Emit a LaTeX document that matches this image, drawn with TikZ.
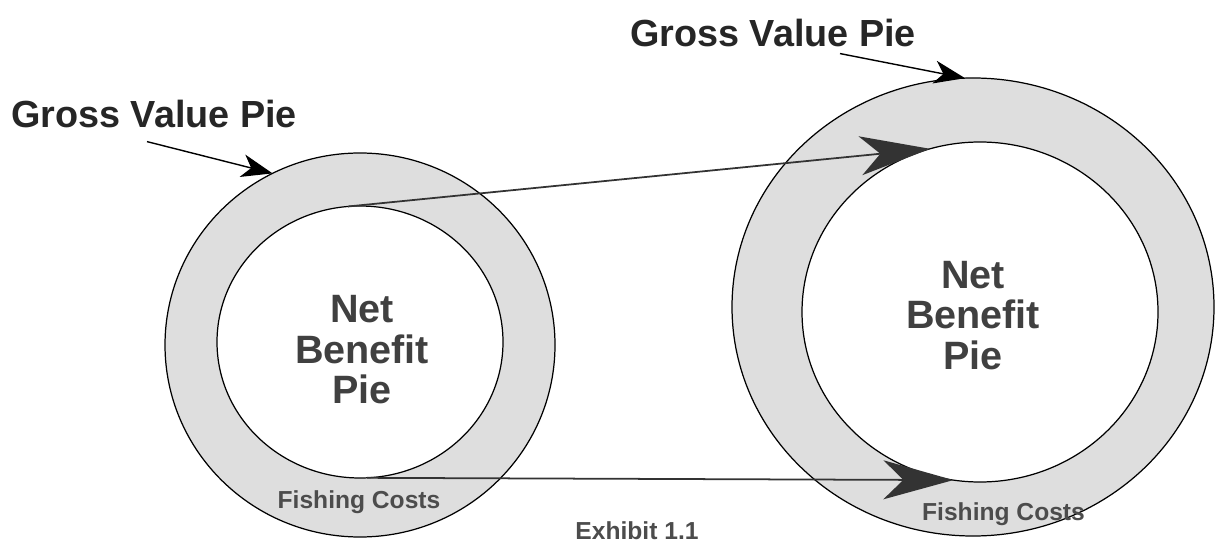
\documentclass[tikz,border=0pt]{standalone}
\usepackage{fontspec}
\setmainfont{Liberation Sans}
\usetikzlibrary{shapes.geometric,arrows.meta}

\begin{document}
\begin{tikzpicture}
        [>=Stealth,
         ring/.style={ellipse,draw,line width=0.7pt,inner sep=0pt,outer sep=0pt},
         headtext/.style={font=\fontsize{21.5}{25}\selectfont\bfseries,text=black!85},
         pietext/.style={align=center,font=\fontsize{22.5}{23}\selectfont\bfseries,text=black!75},
         costtext/.style={font=\fontsize{14}{17}\selectfont\bfseries,text=black!70},
         bigtip/.style={-{Stealth[length=1.4cm,width=0.78cm,inset=0.4cm]},line width=1pt,black!80},
         smalltip/.style={-{Stealth[length=0.62cm,width=0.46cm,inset=0.18cm]},line width=0.8pt}]

        \useasboundingbox (0,0) rectangle (24.34,10.88);

        % small pie on the left
        \begin{scope}[shift={(7.2,4)}]
            \node[ring,fill=black!13,minimum width=7.8cm,minimum height=7.68cm] (outerL) at (0,-0.02) {};
            \node[ring,fill=white,minimum width=5.72cm,minimum height=5.44cm] (innerL) at (0,0.04) {};
            \node[pietext] (netL) at (0.04,-0.12) {Net\\Benefit\\Pie};
            \node[costtext,anchor=base] (costL) at (-0.02,-3.28) {Fishing Costs};
        \end{scope}

        % bigger pie on the right
        \begin{scope}[shift={(19.5,4.7)}]
            \node[ring,fill=black!13,minimum width=9.64cm,minimum height=9.16cm] (outerR) at (-0.04,0.04) {};
            \node[ring,fill=white,minimum width=7.12cm,minimum height=6.8cm] (innerR) at (0.1,-0.06) {};
            \node[pietext] (netR) at (-0.04,-0.13) {Net\\Benefit\\Pie};
            \node[costtext,anchor=base] (costR) at (0.57,-4.22) {Fishing Costs};
        \end{scope}

        \node[headtext,anchor=base] (grossL) at (3.08,8.32) {Gross Value Pie};
        \node[headtext,anchor=base] (grossR) at (15.46,9.94) {Gross Value Pie};
        \node[costtext,anchor=base] (exhibit) at (12.74,0.1) {Exhibit 1.1};

        \draw[smalltip] ([xshift=-0.14cm,yshift=-4pt]grossL.south) -- (outerL.117.5);
        \draw[smalltip] ([xshift=1.34cm]grossR.south) -- (outerR.92.5);

        \draw[bigtip] (innerL.95) -- (innerR.107);
        \draw[bigtip] (innerL.-87) -- (innerR.-99);

    \end{tikzpicture}
\end{document}
